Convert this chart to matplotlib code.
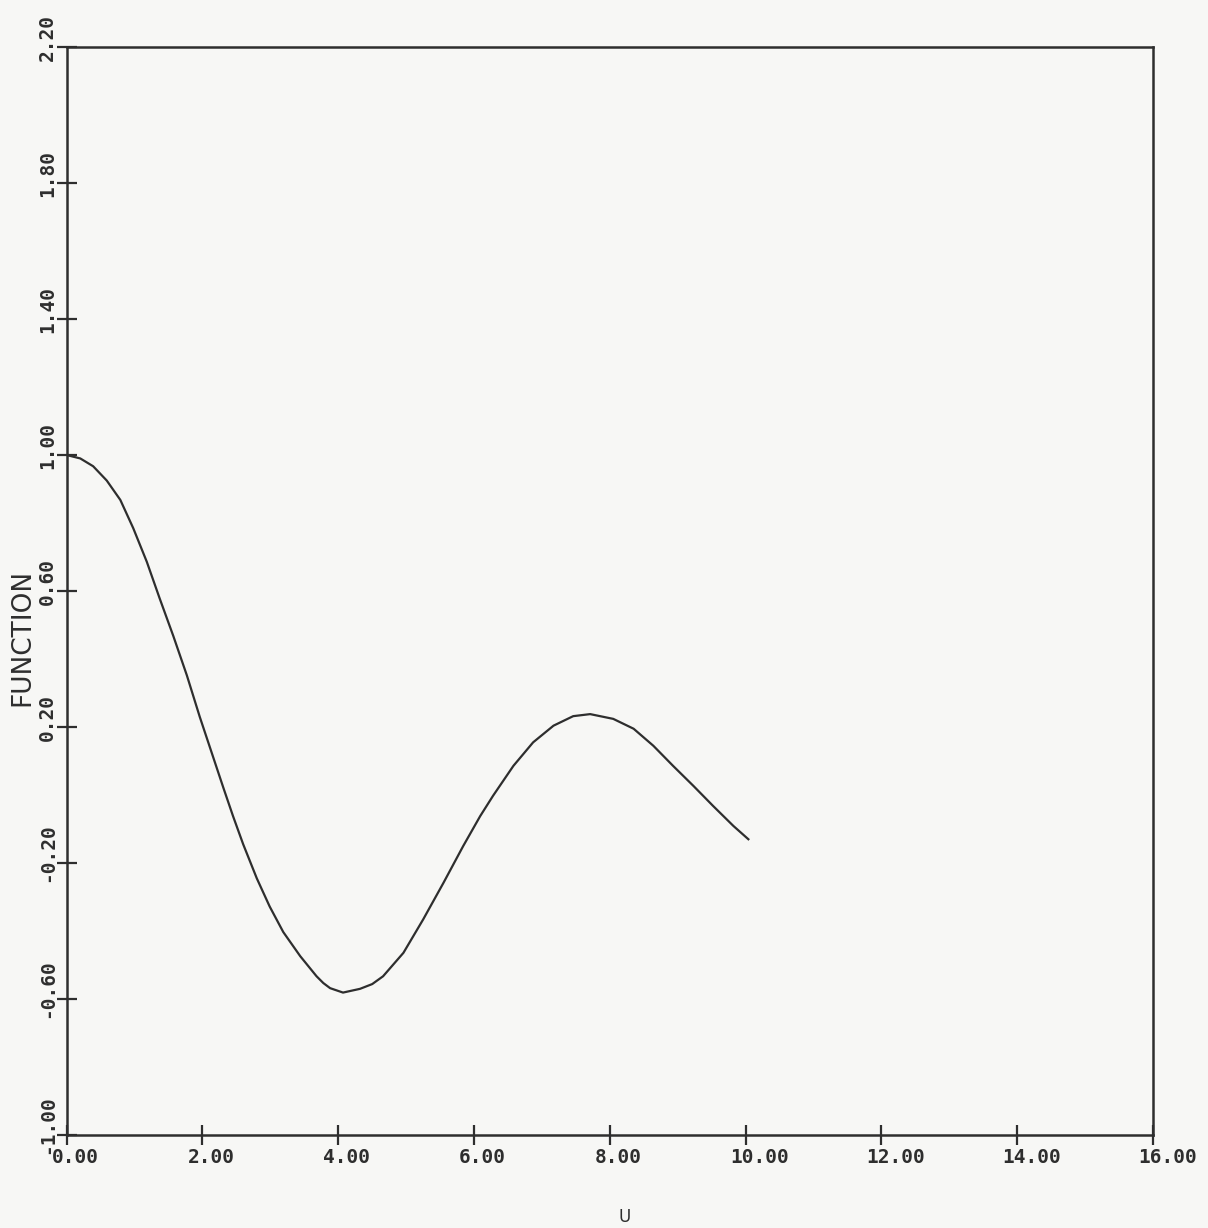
import matplotlib
matplotlib.use("Agg")
import matplotlib.pyplot as plt
from matplotlib.transforms import ScaledTranslation

# values
u = [0.00, 0.20, 0.39, 0.59, 0.79, 0.98, 1.18, 1.37, 1.57, 1.77, 1.96,
     2.11, 2.31, 2.45, 2.60, 2.80, 2.99, 3.19, 3.44, 3.68, 3.78, 3.88,
     4.07, 4.32, 4.50, 4.66, 4.96, 5.25, 5.55, 5.84, 6.09, 6.28, 6.58,
     6.87, 7.17, 7.46, 7.71, 8.05, 8.35, 8.64, 8.93, 9.23, 9.52, 9.82,
     10.04]
func = [1.000, 0.990, 0.967, 0.925, 0.868, 0.785, 0.686, 0.578, 0.468,
        0.352, 0.230, 0.140, 0.020, -0.062, -0.145, -0.245, -0.328,
        -0.403, -0.474, -0.533, -0.553, -0.568, -0.581, -0.570, -0.556,
        -0.533, -0.464, -0.366, -0.258, -0.150, -0.062, -0.002, 0.086,
        0.155, 0.204, 0.232, 0.238, 0.224, 0.195, 0.145, 0.086, 0.027,
        -0.032, -0.091, -0.130]

xticks = [0, 2, 4, 6, 8, 10, 12, 14, 16]
xlabels = ["0.00", "2.00", "4.00", "6.00", "8.00", "10.00", "12.00", "14.00", "16.00"]
yticks = [-1.0, -0.6, -0.2, 0.2, 0.6, 1.0, 1.4, 1.8, 2.2]
ylabels = ["-1.00", "-0.60", "-0.20", "0.20", "0.60", "1.00", "1.40", "1.80", "2.20"]

ink = "#2e2e2e"
paper = "#f7f7f5"
dpi = 100

fig = plt.figure(figsize=(12.08, 12.28), dpi=dpi, facecolor=paper)
ax = fig.add_axes([0.0552, 0.0757, 0.8993, 0.8860], facecolor=paper)

ax.plot(u, func, color=ink, linewidth=1.6, solid_joinstyle="round")

ax.set_xlim(0, 16)
ax.set_ylim(-1.0, 2.2)
for s in ax.spines.values():
    s.set_color(ink)
    s.set_linewidth(1.8)

mono = {"family": "DejaVu Sans Mono", "weight": "bold", "size": 14}

ax.set_xticks(xticks)
ax.set_xticklabels(xlabels, fontdict=mono, color=ink, ha="left")
ax.set_yticks(yticks)
ax.set_yticklabels(ylabels, fontdict=mono, color=ink, rotation=90, va="center")
ax.tick_params(direction="inout", length=14, width=1.6, color=ink)
ax.tick_params(axis="x", pad=2)
ax.tick_params(axis="y", pad=0)

for lab in ax.get_xticklabels():
    lab.set_transform(lab.get_transform() + ScaledTranslation(-15 / dpi, 0, fig.dpi_scale_trans))
for lab in ax.get_yticklabels():
    lab.set_transform(lab.get_transform() + ScaledTranslation(0, 10 / dpi, fig.dpi_scale_trans))

fig.text(22 / 1208, 1 - 637 / 1228, "FUNCTION", rotation=90, ha="center", va="center",
         fontsize=19, color=ink, family="DejaVu Sans")
fig.text(625 / 1208, 1 - 1217 / 1228, "U", ha="center", va="center",
         fontsize=12, color=ink, family="DejaVu Sans")

fig.savefig("out.png", dpi=dpi, facecolor=paper)
